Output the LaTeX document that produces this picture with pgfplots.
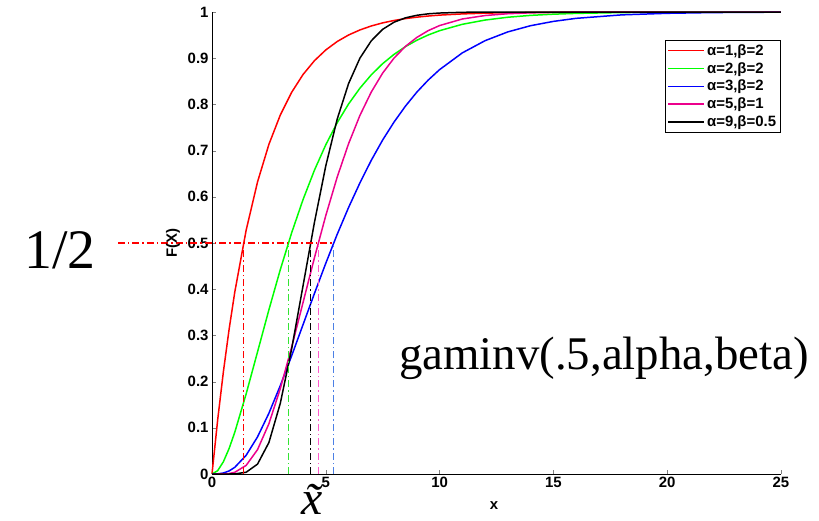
\documentclass[border=0pt]{standalone}
\usepackage{pgfplots}
\pgfplotsset{compat=1.18}
\usepackage{pgfplotstable}
\usepackage{fontspec}
\setmainfont{Liberation Sans}
\newfontfamily\timesfont{Liberation Serif}
\newcommand\axfont{\fontsize{15}{18}\selectfont\bfseries}

% gamma CDFs, columns: x, (1,2), (2,2), (3,2), (5,1), (9,0.5)
\pgfplotstableread{
x     a      b      c      d      e
0     0      0      0      0      0
0.25  0.1175 0.0072 0.0003 0.0000 0.0000
0.5   0.2212 0.0265 0.0022 0.0002 0.0000
0.75  0.3127 0.0550 0.0066 0.0010 0.0000
1     0.3935 0.0902 0.0144 0.0037 0.0002
1.5   0.5276 0.1733 0.0405 0.0186 0.0038
2     0.6321 0.2642 0.0803 0.0527 0.0214
2.5   0.7135 0.3554 0.1315 0.1088 0.0681
3     0.7769 0.4422 0.1912 0.1847 0.1528
3.5   0.8262 0.5221 0.2559 0.2746 0.2709
4     0.8647 0.5940 0.3233 0.3712 0.4075
4.5   0.8946 0.6575 0.3907 0.4679 0.5443
5     0.9179 0.7127 0.4562 0.5595 0.6672
5.5   0.9361 0.7603 0.5187 0.6425 0.7680
6     0.9502 0.8009 0.5768 0.7149 0.8450
6.5   0.9612 0.8352 0.6302 0.7763 0.9002
7     0.9698 0.8641 0.6792 0.8270 0.9378
7.5   0.9765 0.8883 0.7231 0.8679 0.9626
8     0.9817 0.9084 0.7619 0.9004 0.9780
8.5   0.9857 0.9251 0.7963 0.9256 0.9874
9     0.9889 0.9389 0.8266 0.9450 0.9929
9.5   0.9913 0.9503 0.8527 0.9597 0.9961
10    0.9933 0.9596 0.8753 0.9707 0.9978
11    0.9959 0.9734 0.9116 0.9849 0.9994
12    0.9975 0.9826 0.9380 0.9924 0.9999
13    0.9985 0.9887 0.9570 0.9963 1.0000
14    0.9991 0.9927 0.9704 0.9982 1.0000
15    0.9994 0.9953 0.9797 0.9991 1.0000
16    0.9997 0.9970 0.9863 0.9996 1.0000
18    0.9999 0.9988 0.9938 1.0000 1.0000
20    1.0000 0.9995 0.9972 1.0000 1.0000
22    1.0000 0.9998 0.9988 1.0000 1.0000
25    1.0000 1.0000 0.9997 1.0000 1.0000
}\cdfs

\definecolor{mgreen}{rgb}{0.2,0.9,0.2}
\definecolor{mpink}{rgb}{1,0.35,0.8}
\definecolor{mblue}{rgb}{0.3,0.5,0.9}
\pgfplotsset{median/.style={forget plot, line width=1.3pt, dash pattern=on 7pt off 3pt on 1.5pt off 3pt}}

\begin{document}
\begin{tikzpicture}[font=\axfont]
\begin{axis}[
  scale only axis,
  width=569bp, height=462bp,
  xmin=0, xmax=25, ymin=0, ymax=1,
  axis lines=left,
  axis line style={-, line width=0.7pt},
  tick align=inside,
  major tick length=4bp,
  xtick={0,5,10,15,20,25},
  ytick={0,0.1,0.2,0.3,0.4,0.5,0.6,0.7,0.8,0.9,1},
  /pgf/number format/assume math mode=true,
  xticklabel style={font=\axfont},
  yticklabel style={font=\axfont},
  xlabel={x}, ylabel={F(X)},
  every axis x label/.append style={font=\axfont, at={(rel axis cs:0.4956,-0.069)}, anchor=center},
  every axis y label/.append style={font=\axfont, at={(rel axis cs:-0.0685,0.5)}, anchor=center},
  clip=false,
  legend style={at={(rel axis cs:0.999,0.939)}, anchor=north east,
    font=\axfont, draw=black, line width=0.7pt,
    row sep=1.5pt, inner sep=2pt},
  legend cell align=left,
  legend image code/.code={\draw[#1, line width=1.5pt] (0bp,0bp) -- (36bp,0bp);},
  every axis plot/.append style={line width=1.5pt},
]
\addplot[red] table[x=x, y=a] {\cdfs};
\addlegendentry{α=1,β=2}
\addplot[green] table[x=x, y=b] {\cdfs};
\addlegendentry{α=2,β=2}
\addplot[blue] table[x=x, y=c] {\cdfs};
\addlegendentry{α=3,β=2}
\addplot[magenta] table[x=x, y=d] {\cdfs};
\addlegendentry{α=5,β=1}
\addplot[black] table[x=x, y=e] {\cdfs};
\addlegendentry{α=9,β=0.5}

% medians
\addplot[red, median] coordinates {(-4.13,0.5) (5.35,0.5)};
\addplot[red, median] coordinates {(1.386,0) (1.386,0.5)};
\addplot[mgreen, median] coordinates {(3.357,0) (3.357,0.5)};
\addplot[black, median] coordinates {(4.334,0) (4.334,0.5)};
\addplot[mpink, median] coordinates {(4.671,0) (4.671,0.5)};
\addplot[mblue, median] coordinates {(5.348,0) (5.348,0.5)};

\node[font=\timesfont\fontsize{56}{60}\selectfont] at (axis cs:-6.68,0.485) {1/2};
\node[font=\timesfont\fontsize{47}{50}\selectfont] at (axis cs:17.22,0.251) {gaminv(.5,alpha,beta)};
\node[font=\timesfont\fontsize{48}{50}\selectfont\itshape, anchor=base, inner sep=0pt] at (axis cs:4.39,-0.087) {\~x};

\path (axis cs:-9.315,-0.1017) rectangle (axis cs:26.67,1.026);
\end{axis}
\end{tikzpicture}
\end{document}
